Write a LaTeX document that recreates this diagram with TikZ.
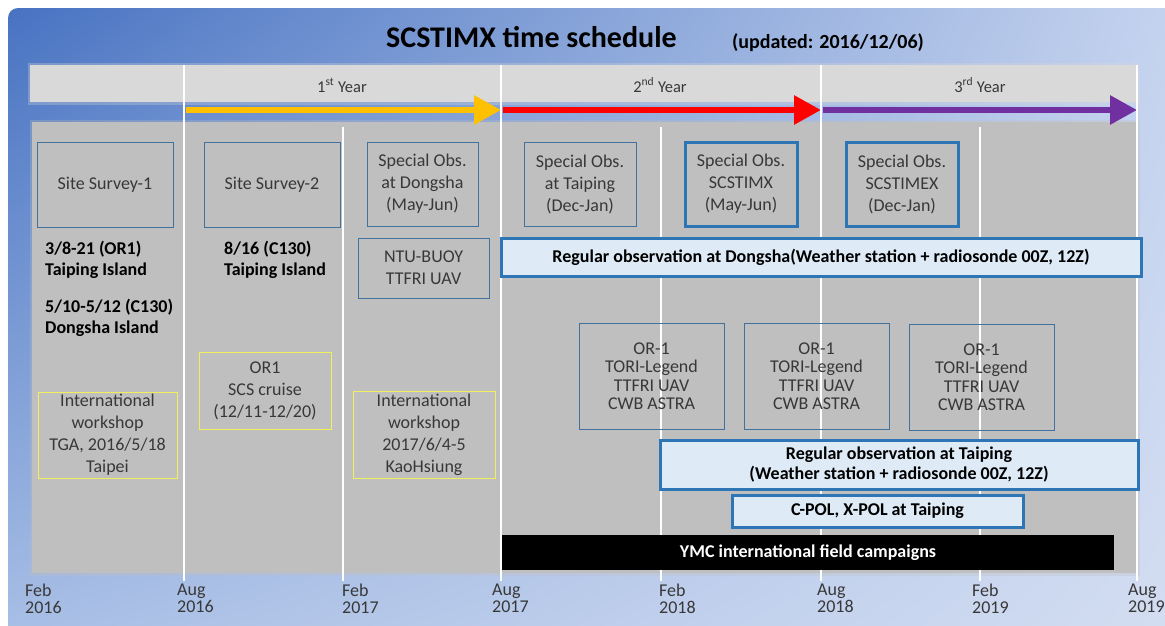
\documentclass[tikz,border=0pt]{standalone}
\usepackage{fontspec}
\setmainfont{Carlito}
\usetikzlibrary{arrows.meta,shadings}
\definecolor{boxblue}{RGB}{65,113,156}
\definecolor{thickblue}{RGB}{46,117,182}
\definecolor{lightfill}{RGB}{222,235,247}
\definecolor{ylw}{RGB}{240,240,90}
\definecolor{txt}{RGB}{56,56,56}
\definecolor{panel}{RGB}{191,191,191}
\definecolor{topbar}{RGB}{217,217,217}
\definecolor{arrY}{RGB}{255,192,0}
\definecolor{arrR}{RGB}{255,0,0}
\definecolor{arrP}{RGB}{112,48,160}
\definecolor{bgUL}{RGB}{72,115,194}
\definecolor{bgUR}{RGB}{198,212,239}
\definecolor{bgLL}{RGB}{170,192,230}
\definecolor{bgLR}{RGB}{212,222,242}
\tikzset{
  box/.style={draw=boxblue, line width=1pt, text=txt, align=center, inner sep=0pt,
    font=\fontsize{18}{22}\selectfont},
  orbox/.style={box, minimum width=145pt, minimum height=106pt, font=\fontsize{18}{18.5}\selectfont},
  thickbox/.style={box, draw=thickblue, line width=3pt},
  ybox/.style={box, draw=ylw},
  bar/.style={draw=thickblue, line width=3pt, fill=lightfill, text=black, align=center,
    inner sep=0pt, font=\bfseries\fontsize{18}{20}\selectfont},
  blackbar/.style={fill=black, text=white, inner sep=0pt, font=\bfseries\fontsize{18}{20}\selectfont},
  boldnote/.style={anchor=north west, align=left, inner sep=0pt, text=black,
    font=\bfseries\fontsize{18}{21}\selectfont},
  datelbl/.style={anchor=north west, align=left, inner sep=0pt, text=txt,
    font=\fontsize{18}{17}\selectfont},
  yearlbl/.style={anchor=base, inner sep=0pt, text=txt, font=\fontsize{16.5}{18}\selectfont},
  vline/.style={white, line width=2.5pt},
  arrowline/.style={line width=6pt, -{Triangle[length=27pt,width=28pt]}},
}
\begin{document}
\begin{tikzpicture}[x=1pt,y=-1pt]
\useasboundingbox (0,0) rectangle (1165,625);
\clip (0,0) rectangle (1165,625);
% background
\shade[upper left=bgUL, upper right=bgUR, lower left=bgLL, lower right=bgLR, rounded corners=10pt]
  (8,8) rectangle (1185,645);
% title
\node[anchor=base, inner sep=0pt, font=\bfseries\fontsize{30}{34}\selectfont] (title) at (531.5,47) {SCSTIMX time schedule};
\node[anchor=base west, inner sep=0pt, font=\bfseries\fontsize{20}{24}\selectfont] (upd) at (732,48) {(updated: 2016/12/06)};
% top bar and panel
\draw[topbar, line width=5pt, opacity=0.3] (30,65) rectangle (1137,102);
\fill[topbar] (30,65) rectangle (1137,102);
\draw[panel, line width=5pt, opacity=0.3] (32,122) rectangle (1137,573);
\fill[panel] (32,122) rectangle (1137,573);
% arrows
\coordinate (ya) at (186,110);
\coordinate (yb) at (501,110);
\coordinate (ra) at (503,110);
\coordinate (rb) at (821,110);
\coordinate (pa) at (823,110);
\coordinate (pb) at (1137,110);
\draw[arrowline, arrY] (ya) -- (yb);
\draw[arrowline, arrR] (ra) -- (rb);
\draw[arrowline, arrP] (pa) -- (pb);
% vertical lines
\coordinate (l1t) at (184,65);  \coordinate (l1b) at (184,581);
\coordinate (l2t) at (343,127); \coordinate (l2b) at (343,581);
\coordinate (l3t) at (501,65);  \coordinate (l3b) at (501,581);
\coordinate (l4t) at (661,127); \coordinate (l4b) at (661,581);
\coordinate (l5t) at (821,65);  \coordinate (l5b) at (821,581);
\coordinate (l6t) at (980,127); \coordinate (l6b) at (980,581);
\coordinate (l7t) at (1137,65); \coordinate (l7b) at (1137,581);
\foreach \i in {1,...,7} \draw[vline] (l\i t) -- (l\i b);
% year labels
\node[yearlbl] (y1) at (342,92) {1\textsuperscript{st} Year};
\node[yearlbl] (y2) at (660,92) {2\textsuperscript{nd} Year};
\node[yearlbl] (y3) at (980,92) {3\textsuperscript{rd} Year};
% special obs boxes
\node[box, minimum width=136pt, minimum height=85pt] (ss1) at (105,184.5) {Site Survey-1};
\node[box, minimum width=136pt, minimum height=85pt] (ss2) at (272,184.5) {Site Survey-2};
\node[box, minimum width=111pt, minimum height=84pt] (sod) at (422.5,184) {Special Obs.\\at Dongsha\\(May-Jun)};
\node[box, minimum width=131pt, minimum height=60pt] (buoy) at (423.5,268) {NTU-BUOY\\TTFRI UAV};
\node[box, minimum width=112pt, minimum height=84pt] (sot) at (580,184) {Special Obs.\\at Taiping\\(Dec-Jan)};
\node[thickbox, minimum width=112pt, minimum height=84pt] (sos) at (741,184) {Special Obs.\\SCSTIMX\\(May-Jun)};
\node[thickbox, minimum width=112pt, minimum height=84pt] (soe) at (902,184) {Special Obs.\\SCSTIMEX\\(Dec-Jan)};
% bold notes
\node[boldnote] (n1) at (45,240.5) {3/8-21 (OR1)\\Taiping Island};
\node[boldnote] (n2) at (45,299) {5/10-5/12 (C130)\\Dongsha Island};
\node[boldnote] (n3) at (224,240.5) {8/16 (C130)\\Taiping Island};
% regular obs Dongsha
\node[bar, minimum width=640pt, minimum height=38pt] (regD) at (821,257) {Regular observation at Dongsha(Weather station + radiosonde 00Z, 12Z)};
% yellow boxes
\node[ybox, minimum width=139pt, minimum height=86pt] (ws1) at (107.5,435) {International\\workshop\\TGA, 2016/5/18\\Taipei};
\node[ybox, minimum width=132pt, minimum height=77pt] (cruise) at (265,390.5) {OR1\\SCS cruise\\(12/11-12/20)};
\node[ybox, minimum width=142pt, minimum height=87pt] (ws2) at (424,434.5) {International\\workshop\\2017/6/4-5\\KaoHsiung};
% OR-1 boxes
\node[orbox] (or1) at (651.5,376) {OR-1\\TORI-Legend\\TTFRI UAV\\CWB ASTRA};
\node[orbox] (or2) at (816.5,376) {OR-1\\TORI-Legend\\TTFRI UAV\\CWB ASTRA};
\node[orbox] (or3) at (981.5,377) {OR-1\\TORI-Legend\\TTFRI UAV\\CWB ASTRA};
% Taiping bars
\node[bar, minimum width=478pt, minimum height=49pt] (regT) at (899,464.5) {Regular observation at Taiping\\(Weather station + radiosonde 00Z, 12Z)};
\node[bar, minimum width=291pt, minimum height=32pt] (cpol) at (877.5,511) {C-POL, X-POL at Taiping};
\node[blackbar, minimum width=612pt, minimum height=35pt] (ymc) at (808,552.5) {YMC international field campaigns};
% date labels
\node[datelbl] (d0) at (25,584) {Feb\\2016};
\node[datelbl] (d1) at (177,584) {Aug\\2016};
\node[datelbl] (d2) at (342,584) {Feb\\2017};
\node[datelbl] (d3) at (492,584) {Aug\\2017};
\node[datelbl] (d4) at (659,584) {Feb\\2018};
\node[datelbl] (d5) at (817,584) {Aug\\2018};
\node[datelbl] (d6) at (972,584) {Feb\\2019};
\node[datelbl] (d7) at (1128,584) {Aug\\2019};
\end{tikzpicture}
\end{document}
